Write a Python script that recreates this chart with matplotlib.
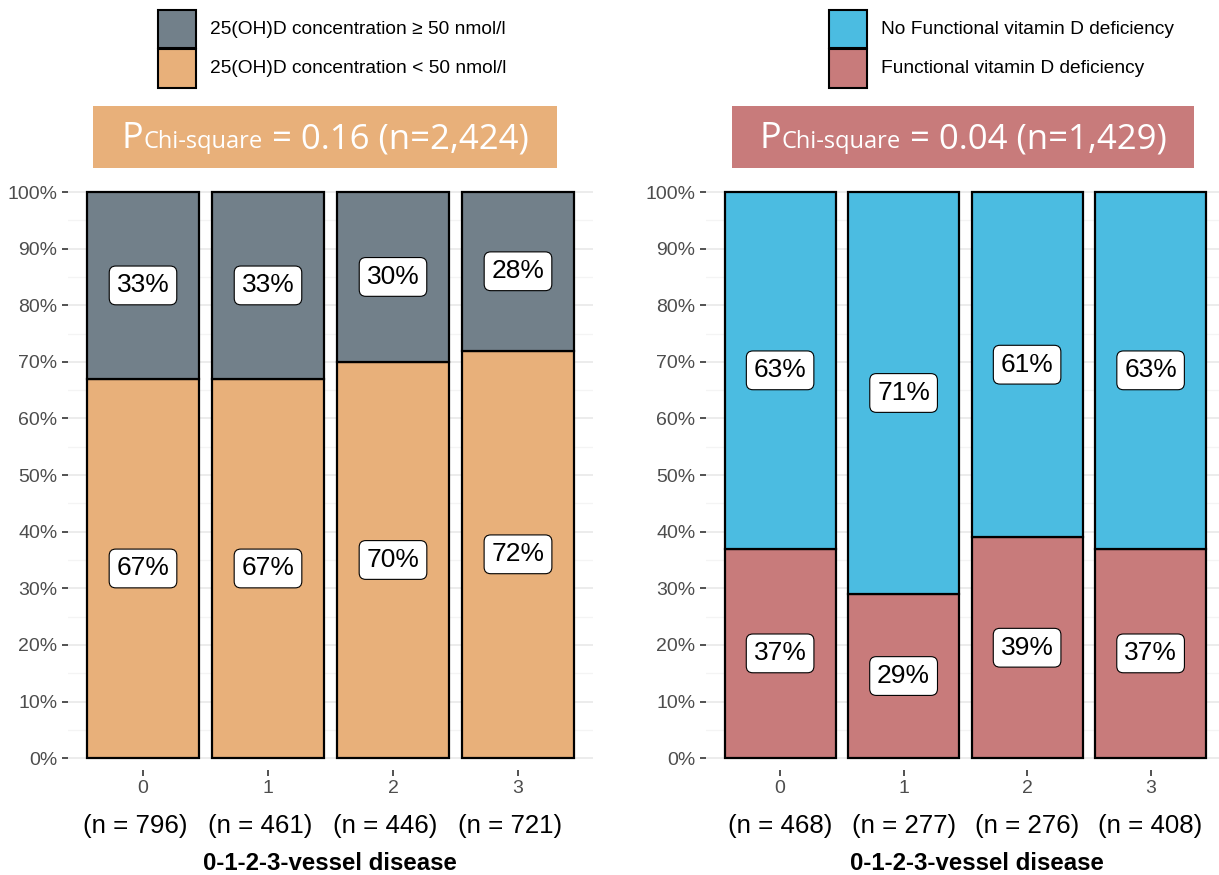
import numpy as np
import matplotlib.pyplot as plt
from matplotlib.patches import Rectangle
from matplotlib.transforms import blended_transform_factory

plt.rcParams['font.family'] = ['Liberation Sans', 'DejaVu Sans']

W, H = 1219, 875

vessels = ['0', '1', '2', '3']

# 25(OH)D concentration by number of diseased vessels (%)
ohd_low = [67, 67, 70, 72]
ohd_high = [33, 33, 30, 28]
ohd_n = [796, 461, 446, 721]
ohd_legend = ['25(OH)D concentration \u2265 50 nmol/l',
              '25(OH)D concentration < 50 nmol/l']
ohd_p = '0.16'
ohd_total = '2,424'

# functional vitamin D deficiency by number of diseased vessels (%)
fvd_yes = [37, 29, 39, 37]
fvd_no = [63, 71, 61, 63]
fvd_n = [468, 277, 276, 408]
fvd_legend = ['No Functional vitamin D deficiency',
              'Functional vitamin D deficiency']
fvd_p = '0.04'
fvd_total = '1,429'

GREY = '#72808A'
ORANGE = '#E8B07A'
BLUE = '#4BBCE1'
ROSE = '#C87B7B'


def fx(x):
    return x / W


def fy(y):
    return 1 - y / H


fig = plt.figure(figsize=(W / 100, H / 100), dpi=100)
renderer = fig.canvas.get_renderer()


def panel(left_px, step_px, low, high, ns, c_low, c_high, xlabel_px, n_shift=0.0):
    width_px = 4.2 * step_px
    ax = fig.add_axes([fx(left_px), fy(770), width_px / W, (770 - 180.7) / H])
    x = np.arange(len(vessels))
    ax.bar(x, low, width=0.9, color=c_low, edgecolor='black', linewidth=1.6)
    ax.bar(x, high, width=0.9, bottom=low, color=c_high, edgecolor='black', linewidth=1.6)
    for i in range(len(vessels)):
        for mid, v in [(low[i] / 2, low[i]), (low[i] + high[i] / 2, high[i])]:
            ax.text(i, mid, f'{v}%', ha='center', va='center', fontsize=19,
                    bbox=dict(boxstyle='round,pad=0.28,rounding_size=0.25',
                              fc='white', ec='black', lw=0.8))
    ax.set_xlim(-0.6, 3.6)
    ax.set_ylim(-2.1, 102)
    ax.set_yticks(np.arange(0, 101, 10))
    ax.set_yticklabels([f'{v}%' for v in range(0, 101, 10)])
    ax.set_yticks(np.arange(5, 100, 10), minor=True)
    ax.set_xticks(x)
    ax.set_xticklabels(vessels)
    ax.tick_params(which='major', length=4.5, width=1.2, color='#333333',
                   labelcolor='#4D4D4D', labelsize=14, pad=3)
    ax.tick_params(which='minor', length=0)
    ax.grid(which='major', axis='y', color='#EBEBEB', lw=1.3)
    ax.grid(which='minor', axis='y', color='#F4F4F4', lw=0.9)
    ax.set_axisbelow(True)
    for s in ax.spines.values():
        s.set_visible(False)
    tr = blended_transform_factory(ax.transData, fig.transFigure)
    for i, n in enumerate(ns):
        ax.text(i + n_shift, fy(826), f'(n = {n})', transform=tr, ha='center',
                va='center', fontsize=18.6, clip_on=False)
    fig.text(fx(xlabel_px), fy(864), '0-1-2-3-vessel disease', ha='center',
             va='center', fontsize=17.3, fontweight='bold')
    return ax


def legend(x_px, labels, colors):
    for k, (lab, c) in enumerate(zip(labels, colors)):
        y0 = 10 + k * 39.5
        fig.add_artist(Rectangle((fx(x_px), fy(y0 + 38)), 38 / W, 38 / H,
                                 transform=fig.transFigure, fc=c, ec='black', lw=1.5))
        fig.text(fx(x_px + 52), fy(y0 + 19), lab, ha='left', va='center', fontsize=13.8)


def pbox(x0, x1, color, p, total):
    fig.add_artist(Rectangle((fx(x0), fy(168)), (x1 - x0) / W, 62 / H,
                             transform=fig.transFigure, fc=color, ec='none'))
    pieces = [('P', 26), ('Chi-square', 17), (f' = {p} (n={total})', 25)]
    texts = []
    for s, size in pieces:
        t = fig.text(0, fy(148), s, fontsize=size, color='white', va='baseline',
                     ha='left', family=['Open Sans', 'DejaVu Sans'])
        texts.append(t)
    widths = [t.get_window_extent(renderer).width for t in texts]
    x = (x0 + x1) / 2 - sum(widths) / 2
    for t, w in zip(texts, widths):
        t.set_x(fx(x))
        x += w


panel(68, 125, ohd_low, ohd_high, ohd_n, ORANGE, GREY, 330, n_shift=-0.065)
panel(706, 123.5, fvd_yes, fvd_no, fvd_n, ROSE, BLUE, 977)

legend(158, ohd_legend, [GREY, ORANGE])
legend(829, fvd_legend, [BLUE, ROSE])

pbox(93, 557, ORANGE, ohd_p, ohd_total)
pbox(732, 1194, ROSE, fvd_p, fvd_total)

fig.savefig('out.png', dpi=100)
